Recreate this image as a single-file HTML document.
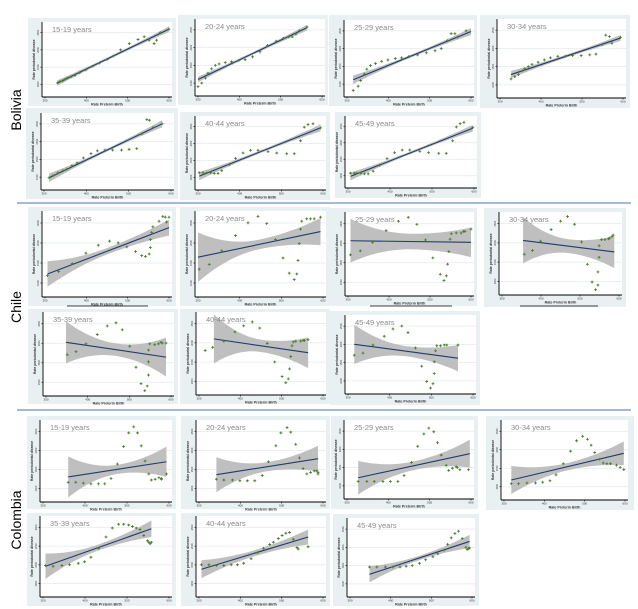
<!DOCTYPE html>
<html><head><meta charset="utf-8"><style>
html,body{margin:0;padding:0;background:#fff;}
svg{display:block;font-family:"Liberation Sans",sans-serif;}
</style></head><body>
<svg id="fig" width="638" height="609" viewBox="0 0 638 609"></svg>
<script>
const ageGroups = ["15-19 years","20-24 years","25-29 years","30-34 years","35-39 years","40-44 years","45-49 years"];
const countries = ["Bolivia","Chile","Colombia"];
// points in normalized data units (x: rate preterm birth, y: rate periodontal disease), 0-100
const boliviaPoints = [
 [[10,16],[12,18],[14,19],[16,21],[18,23],[21,25],[24,27],[28,31],[33,35],[38,40],[44,45],[50,50],[55,55],[61,64],[68,73],[75,79],[80,83],[84,78],[88,73],[90,78],[93,89],[100,94]],
 [[0,9],[3,14],[6,21],[8,28],[11,34],[14,39],[17,41],[22,43],[27,44],[33,46],[38,47],[44,51],[50,58],[56,67],[63,73],[69,77],[73,79],[76,79],[79,83],[82,88],[88,93]],
 [[5,5],[9,11],[11,19],[14,28],[16,35],[19,40],[23,43],[28,46],[33,48],[39,50],[44,51],[50,53],[57,55],[64,58],[71,61],[76,64],[81,75],[84,85],[87,85],[89,80],[96,89]],
 [[9,22],[12,25],[15,28],[18,33],[20,36],[23,39],[26,42],[31,45],[36,48],[41,51],[47,53],[53,53],[59,54],[66,54],[73,55],[78,56],[83,69],[86,82],[89,80],[91,71],[98,79]],
 [[4,13],[7,16],[11,20],[15,23],[18,25],[22,30],[26,34],[31,41],[37,47],[42,51],[48,52],[54,52],[61,52],[67,53],[73,54],[77,75],[81,95],[83,94],[86,84],[93,89]],
 [[1,21],[4,21],[7,21],[10,21],[13,20],[16,20],[19,24],[25,33],[30,42],[36,50],[42,54],[48,54],[56,52],[63,50],[71,49],[77,49],[82,68],[85,88],[88,92],[92,93],[98,87]],
 [[2,18],[5,18],[7,18],[10,18],[13,17],[16,17],[20,21],[25,30],[31,40],[37,49],[43,53],[49,53],[57,51],[64,49],[72,48],[78,48],[83,67],[86,88],[89,93],[92,95],[99,87]]
];
const boliviaFits = [[10,16,100,94],[0,19,88,92],[5,20,100,88],[9,28,98,78],[4,13,93,89],[1,16,98,87],[2,13,99,86]];
const boliviaBands = [[4,2,4],[4,2,4],[6,2,5],[5,2,4],[6,2,5],[6,2,5],[6,2,5]];
const chilePoints = [
 [[2,23],[11,28],[22,38],[33,51],[43,61],[52,66],[59,64],[66,59],[73,53],[78,48],[81,47],[84,50],[85,58],[85,68],[86,77],[87,84],[92,91],[95,97],[97,96],[98,90],[100,96]],
 [[1,31],[9,37],[19,54],[30,73],[40,89],[48,97],[55,88],[62,68],[68,45],[73,26],[77,18],[79,25],[80,42],[81,63],[82,81],[83,91],[87,94],[90,94],[93,94],[98,96]],
 [[2,49],[10,54],[20,65],[31,80],[41,92],[49,97],[56,88],[63,68],[69,45],[75,24],[78,16],[80,22],[81,37],[82,53],[83,69],[84,76],[88,77],[92,77],[94,79],[95,79],[100,82]],
 [[19,49],[26,54],[33,66],[42,81],[50,92],[56,98],[62,88],[68,65],[73,36],[77,13],[80,3],[82,9],[82,26],[83,45],[83,60],[85,68],[88,68],[91,69],[92,70],[94,72],[95,74]],
 [[17,49],[24,53],[32,63],[41,75],[49,86],[56,90],[61,81],[67,60],[72,33],[76,12],[79,3],[81,9],[82,23],[82,40],[82,55],[83,63],[87,62],[90,63],[92,65],[93,64],[96,64]],
 [[5,54],[11,58],[20,66],[29,78],[36,86],[43,91],[49,83],[55,63],[61,39],[67,20],[70,12],[72,17],[73,30],[74,46],[75,60],[76,65],[78,66],[82,66],[84,67],[85,67],[88,68]],
 [[5,49],[12,52],[20,63],[29,75],[36,85],[43,89],[48,80],[54,59],[59,34],[63,13],[66,4],[68,10],[69,24],[69,40],[70,55],[71,62],[74,62],[77,63],[79,63],[88,63]]
];
const chileFits = [[2,25,100,83],[0,46,98,78],[2,67,100,65],[18,67,96,52],[16,65,96,46],[12,69,88,51],[5,64,88,45]];
const chileBands = [[16,4,10],[31,6,17],[28,10,19],[30,9,21],[27,8,25],[32,8,20],[27,7,18]];
const colombiaPoints = [
 [[20,22],[26,22],[32,21],[38,20],[44,20],[49,20],[54,27],[59,46],[64,69],[68,87],[72,95],[75,87],[78,70],[81,50],[84,33],[86,25],[89,26],[92,28],[94,27],[94,26],[98,33]],
 [[14,26],[20,25],[27,25],[33,24],[39,24],[45,24],[51,31],[56,49],[62,70],[66,87],[71,94],[74,88],[78,72],[81,54],[84,40],[87,33],[90,35],[93,37],[95,37],[96,35],[96,33]],
 [[9,20],[16,20],[22,20],[29,20],[35,20],[41,20],[46,28],[52,46],[57,68],[62,85],[66,93],[70,88],[73,73],[76,56],[80,42],[82,35],[85,38],[88,40],[89,39],[91,36],[98,36]],
 [[6,18],[12,18],[19,19],[26,19],[32,20],[38,22],[43,30],[49,45],[55,62],[60,76],[65,82],[69,78],[72,70],[75,60],[79,51],[82,46],[85,45],[88,45],[93,43],[96,40],[99,37]],
 [[2,38],[8,37],[15,38],[21,39],[28,41],[33,43],[38,49],[44,61],[50,76],[55,88],[60,93],[64,93],[68,92],[71,90],[74,88],[77,86],[80,78],[83,71],[84,69],[85,67],[86,69]],
 [[2,39],[8,39],[14,38],[20,38],[26,39],[31,39],[36,41],[42,47],[47,55],[52,61],[57,66],[60,69],[64,74],[67,78],[70,81],[73,82],[76,73],[79,62],[80,60],[88,63]],
 [[16,37],[22,37],[29,37],[35,37],[41,37],[46,38],[51,39],[57,42],[62,47],[68,51],[72,55],[77,60],[80,68],[83,77],[86,83],[89,86],[92,76],[95,64],[96,61],[97,62],[98,63]]
];
const colombiaFits = [[20,29,98,49],[14,32,96,53],[9,25,99,58],[6,23,99,59],[2,37,86,87],[2,33,88,76],[16,27,98,72]];
const colombiaBands = [[27,6,20],[23,6,17],[23,6,19],[19,5,16],[17,4,11],[12,4,10],[11,3,9]];
const xTickLabels = ["300","400","500","600"];

// layout geometry: [outerX,outerY,outerW,outerH, plotX,plotY,plotW,plotH]
const boxes = [
 [[28,18,148,88,42,22,130,75],[178,15,150,90,195,19,130,77],[329,15,148,91,344,20,130,77],[480,15,150,93,497,19,129,79],
  [26,108,152,91,41,113,133,77],[180,112,150,88,195,116,131,74],[335,112,146,86,345,116,132,72]],
 [[28,207,148,99,42,211,130,86],[180,207,150,99,195,211,131,86],[330,208,147,98,345,212,129,84],[484,208,142,99,499,212,123,83],
  [28,309,150,95,43,312,131,84],[180,309,150,95,196,312,130,83],[330,311,150,94,345,315,131,79]],
 [[27,416,149,93,40,420,132,82],[181,416,149,93,196,420,130,82],[331,416,147,93,344,420,130,79],[486,416,148,94,501,420,127,80],
  [27,513,149,93,40,516,132,81],[181,513,149,93,196,516,130,81],[333,514,146,92,347,518,128,79]]
];
const ns="http://www.w3.org/2000/svg";
const svg=document.getElementById('fig');
function mk(tag,attrs,parent){const e=document.createElementNS(ns,tag);for(const k in attrs)e.setAttribute(k,attrs[k]);(parent||svg).appendChild(e);return e;}
const allPoints=[boliviaPoints,chilePoints,colombiaPoints];
const allFits=[boliviaFits,chileFits,colombiaFits];
const allBands=[boliviaBands,chileBands,colombiaBands];
let clipId=0;
for(let c=0;c<3;c++){
 for(let p=0;p<7;p++){
  const b=boxes[c][p];
  const g=mk('g',{});
  
  
  const outer=mk('rect',{x:b[0],y:b[1],width:b[2],height:b[3],fill:'#e9f0f2'},g);
  
  
  const px=b[4],py=b[5],pw=b[6],ph=b[7];
  mk('rect',{x:px,y:py,width:pw,height:ph,fill:'#ffffff'},g);
  const sx=v=>px+3+v/100*(pw-6);
  const sy=v=>py+ph-3-v/100*(ph-6);
  for(let k=0;k<4;k++){const yy=py+ph-4-(k+0.5)*(ph-6)/4;mk('line',{x1:px,x2:px+pw,y1:yy,y2:yy,stroke:'#e3eaed','stroke-width':0.8},g);
   const yt=mk('text',{x:px-3,y:yy,'font-size':2.6,fill:'#333','text-anchor':'middle',transform:'rotate(-90 '+(px-3)+' '+yy+')'},g);yt.textContent=String(1000+k*500);
   
   mk('line',{x1:px-1.5,x2:px,y1:yy,y2:yy,stroke:'#000','stroke-width':0.6},g);}
  for(let k=0;k<4;k++){const xx=px+3+k*(pw-6)/3;
   mk('line',{x1:xx,x2:xx,y1:py+ph,y2:py+ph+1.5,stroke:'#000','stroke-width':0.6},g);
   const xt=mk('text',{x:xx,y:py+ph+4.5,'font-size':3,fill:'#333','text-anchor':'middle'},g);xt.textContent=xTickLabels[k];
   }
  const cid='c'+(clipId++);
  const cp=mk('clipPath',{id:cid},g);mk('rect',{x:px,y:py,width:pw,height:ph},cp);
  const inner=mk('g',{'clip-path':'url(#'+cid+')'},g);
  const f=allFits[c][p],bd=allBands[c][p];
  const lineY=x=>f[1]+(f[3]-f[1])*(x-f[0])/(f[2]-f[0]);
  const half=x=>{const t=(x-f[0])/(f[2]-f[0]);return t<0.5?bd[1]+(bd[0]-bd[1])*Math.pow((0.5-t)/0.5,2):bd[1]+(bd[2]-bd[1])*Math.pow((t-0.5)/0.5,2);};
  const up=[],dn=[];
  for(let i=0;i<=30;i++){const x=f[0]+(f[2]-f[0])*i/30;up.push(sx(x).toFixed(1)+','+sy(lineY(x)+half(x)).toFixed(1));dn.unshift(sx(x).toFixed(1)+','+sy(lineY(x)-half(x)).toFixed(1));}
  const band=mk('polygon',{points:up.concat(dn).join(' '),fill:'#bfbfbf'},inner);
  
  const fl=mk('line',{x1:sx(f[0]),y1:sy(f[1]),x2:sx(f[2]),y2:sy(f[3]),stroke:'#1f3c6b','stroke-width':1.1},inner);
  
  for(const pt of allPoints[c][p]){
   const x=sx(pt[0]),y=sy(pt[1]);
   const m=mk('path',{d:`M${x-1.4},${y}H${x+1.4}M${x},${y-1.4}V${y+1.4}`,stroke:'#4b7d2c','stroke-width':0.9},inner);
   
  }
  mk('line',{x1:px,x2:px,y1:py,y2:py+ph,stroke:'#000','stroke-width':0.9},g);
  mk('line',{x1:px,x2:px+pw,y1:py+ph,y2:py+ph,stroke:'#000','stroke-width':0.9},g);
  const t=mk('text',{x:px+10,y:py+10,'font-size':7.5,fill:'#8a8a8a'},g);t.textContent=ageGroups[p];
  
  const xl=mk('text',{x:px+pw/2,y:py+ph+8.5,'font-size':3.6,'font-weight':'bold',fill:'#333','text-anchor':'middle'},g);xl.textContent='Rate Preterm Birth';
  
  const yx=px-7,yy2=py+ph/2;
  const yl=mk('text',{x:yx,y:yy2,'font-size':3.4,'font-weight':'bold',fill:'#333','text-anchor':'middle',transform:'rotate(-90 '+yx+' '+yy2+')'},g);yl.textContent='Rate periodontal disease';
  
 }
}
// chile underlines
[[67,148],[370,452],[520,598]].forEach(s=>{const l=mk('line',{x1:s[0],x2:s[1],y1:306,y2:306,stroke:'#000','stroke-width':0.8});});
[203,410].forEach(y=>{const l=mk('line',{x1:17,x2:631,y1:y,y2:y,stroke:'#4a72b0','stroke-width':1});});
[[16,110],[16,307],[16,520]].forEach((pos,i)=>{const t=mk('text',{x:pos[0],y:pos[1],'font-size':14,fill:'#000','text-anchor':'middle',transform:'rotate(-90 '+pos[0]+' '+pos[1]+')',dy:5});t.textContent=countries[i];
 });
</script>
</body></html>
